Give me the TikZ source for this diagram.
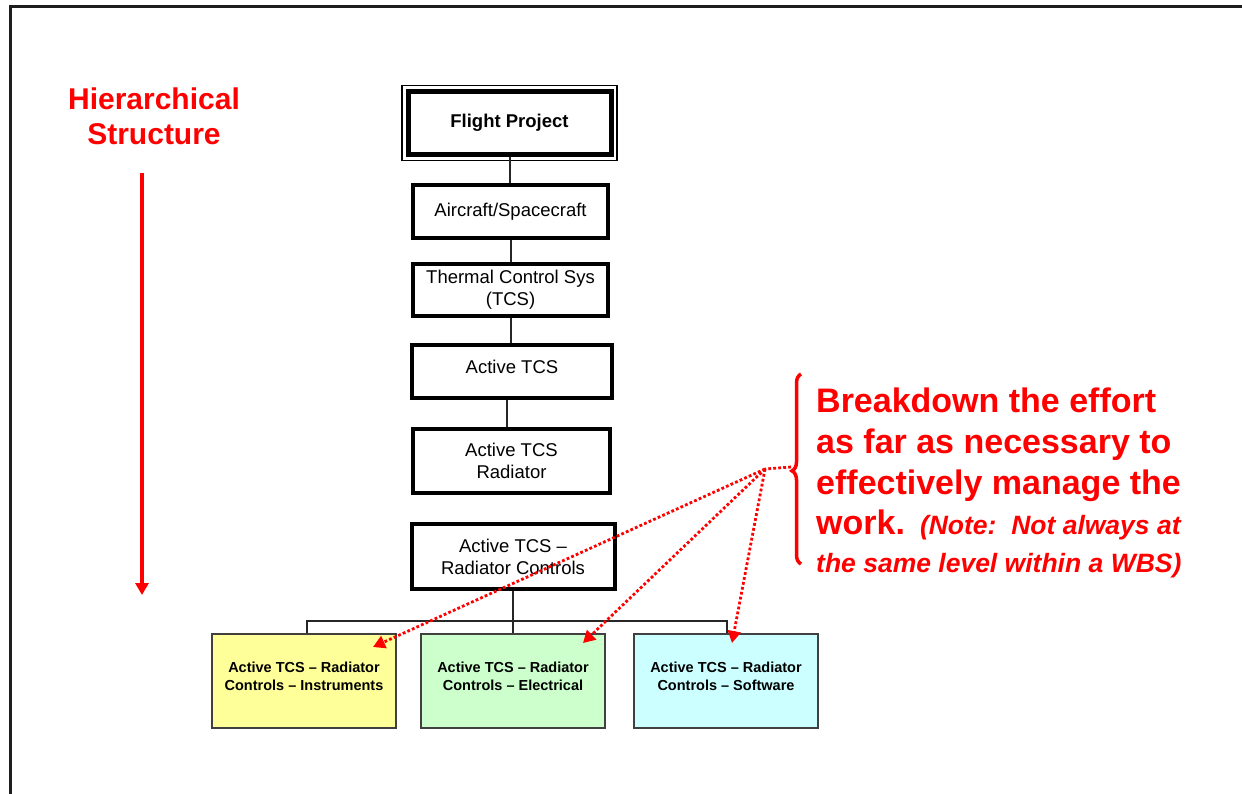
\documentclass[tikz,border=0pt]{standalone}
\usepackage{fontspec}
\setmainfont{Liberation Sans}
\usetikzlibrary{arrows.meta,decorations.pathreplacing,calc}
\definecolor{wbsred}{HTML}{FF0000}
\definecolor{leafyellow}{HTML}{FFFF99}
\definecolor{leafgreen}{HTML}{CCFFCC}
\definecolor{leafcyan}{HTML}{CCFFFF}
\definecolor{framegray}{HTML}{1E1E1E}
\newcommand\wbsnotefont{\fontsize{26.5}{41}\selectfont\bfseries\itshape}
\begin{document}
\begin{tikzpicture}[x=1pt,y=-1pt,
  wbsbox/.style={draw=black, line width=4pt, fill=white, inner sep=0pt, align=center,
    font=\fontsize{18.5}{22}\selectfont},
  leafbox/.style={draw=black!75, line width=2pt, inner sep=0pt, align=center,
    minimum width=184pt, minimum height=94pt, font=\fontsize{14.5}{18}\selectfont\bfseries},
  link/.style={draw=black!85, line width=2pt},
  reddot/.style={draw=wbsred, line width=2.8pt, dash pattern=on 2.8pt off 2.2pt},
  redhead/.style={-{Triangle[width=13pt,length=12pt]}},
  redtitle/.style={text=wbsred, font=\fontsize{30}{35}\selectfont\bfseries, align=center, inner sep=0pt},
  redtext/.style={text=wbsred, font=\fontsize{34}{41}\selectfont\bfseries, inner sep=0pt, anchor=base west}
]
\useasboundingbox (0,0) rectangle (1242,794);
% frame
\draw[framegray, line width=3pt] (9,7) -- (1242,7);
\draw[framegray, line width=3pt] (10,6) -- (10,794);

% hierarchy nodes
\node[wbsbox, line width=5pt, minimum width=203pt, minimum height=63pt, font=\fontsize{18.5}{22}\selectfont\bfseries] (fp) at (509.5,123) {Flight Project};
\draw[black, line width=1.5pt] ([shift={(-3.5pt,-3.5pt)}]fp.south west) rectangle ([shift={(3.5pt,3.5pt)}]fp.north east);
\node[wbsbox, minimum width=195pt, minimum height=53pt] (ac) at (510.5,211.5) {Aircraft/Spacecraft};
\node[wbsbox, minimum width=195pt, minimum height=52pt] (tcs) at (510.5,290) {Thermal Control Sys\\(TCS)};
\node[wbsbox, minimum width=200pt, minimum height=53pt, text depth=10pt] (atcs) at (512,371.5) {Active TCS};
\node[wbsbox, minimum width=197pt, minimum height=64pt] (rad) at (511.5,461) {Active TCS\\Radiator};
\node[wbsbox, minimum width=203pt, minimum height=65pt] (ctl) at (513,556.5) {Active TCS –\\Radiator Controls};

\node[leafbox, fill=leafyellow] (ins) at (304,681) {Active TCS – Radiator\\Controls – Instruments\\[-9pt]};
\node[leafbox, fill=leafgreen] (ele) at (513,681) {Active TCS – Radiator\\Controls – Electrical\\[-9pt]};
\node[leafbox, fill=leafcyan] (sw) at (726,681) {Active TCS – Radiator\\Controls – Software\\[-9pt]};

% connectors
\draw[link] (fp.south) -- (fp.south |- ac.north);
\draw[link] (ac.south) -- (ac.south |- tcs.north);
\draw[link] (tcs.south) -- (tcs.south |- atcs.north);
\draw[link] ([xshift=-5pt]atcs.south) -- ([xshift=-5pt]atcs.south |- rad.north);
\coordinate (bus) at (513,621);
\draw[link] (ctl.south) -- (ele.north);
\draw[link] ([xshift=3pt]ins.north) |- (bus) -| ([xshift=1pt]sw.north);

% left title and arrow
\node[redtitle] (title) at (154,116) {Hierarchical\\Structure};
\coordinate (arrtop) at (142,173);
\coordinate (arrbot) at (142,595);
\draw[wbsred, line width=4pt, -{Triangle[width=13pt,length=12pt]}] (arrtop) -- (arrbot);

% brace
\draw[wbsred, line width=3.5pt, decorate, decoration={brace, amplitude=9pt, aspect=0.49}] (801,564) -- (801,374);
\coordinate (tip) at (791,467);
\coordinate (hub) at (765,469);

% red text
\node[redtext] (l1) at (816,412) {Breakdown the effort};
\node[redtext] (l2) at (816,453) {as far as necessary to};
\node[redtext] (l3) at (816,494) {effectively manage the};
\node[redtext] (l4) at (816,534) {work.\hspace{15pt}{\wbsnotefont(Note:\ \ Not always at}};
\node[redtext, font=\wbsnotefont] (l5) at (816,572) {the same level within a WBS)};

% dotted arrows
\draw[reddot] (tip) -- (hub);
\draw[reddot, redhead, wbsred] (hub) -- ([xshift=-24pt,yshift=-14pt]ins.north east);
\draw[reddot, redhead, wbsred] (hub) -- ([xshift=-23pt,yshift=-10pt]ele.north east);
\draw[reddot, redhead, wbsred] (hub) -- ([xshift=6pt,yshift=-10pt]sw.north);
\end{tikzpicture}
\end{document}
